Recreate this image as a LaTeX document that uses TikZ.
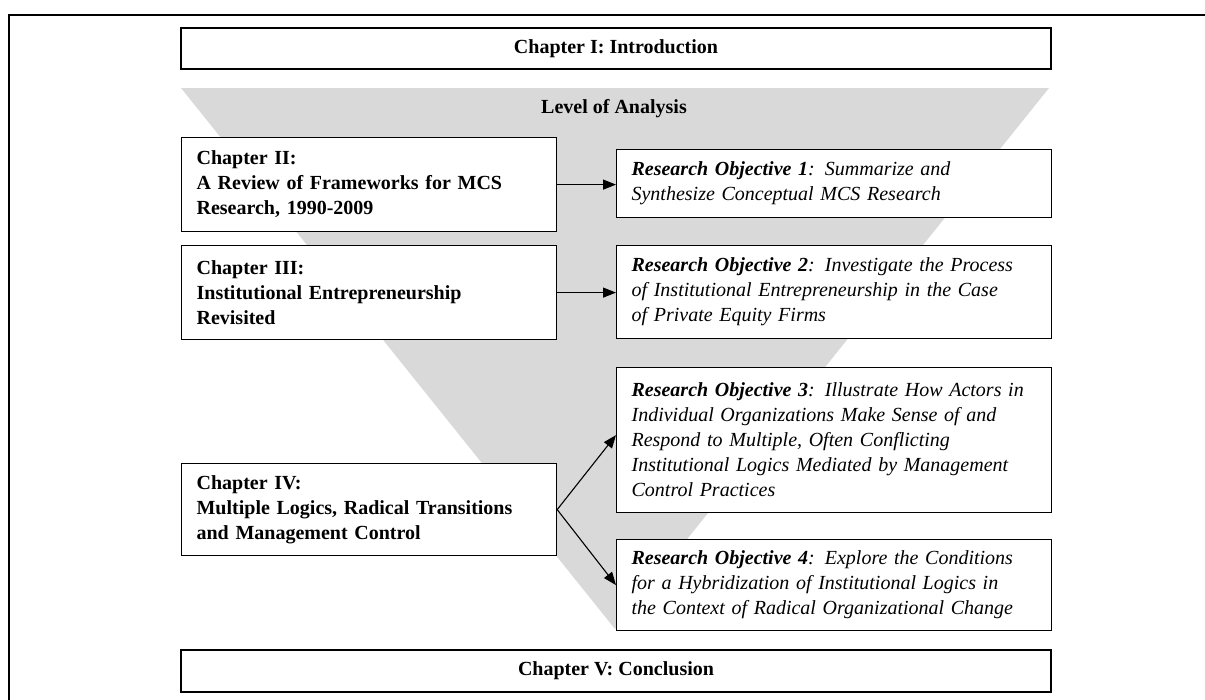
\documentclass[tikz,border=0pt]{standalone}
\usepackage{fontspec}
\setmainfont{Liberation Serif}
\usetikzlibrary{arrows.meta}

\begin{document}
\begin{tikzpicture}
[x=1pt,y=-1pt,
 chapbox/.style={draw,line width=1.2pt,fill=white,anchor=north west,
                 inner xsep=15pt,inner ysep=0pt,align=left,text width=345pt,
                 font=\fontsize{20}{25}\selectfont\bfseries},
 objbox/.style={chapbox,text width=405pt,
                font=\fontsize{20}{25}\selectfont\itshape},
 endbox/.style={draw,line width=1.2pt,fill=white,minimum width=870pt,
                minimum height=41pt,font=\fontsize{20}{25}\selectfont\bfseries},
 link/.style={-{Triangle[length=13pt,width=10pt]},line width=1.1pt}]
\useasboundingbox (0,0) rectangle (1205,699);
\clip (0,0) rectangle (1205,699);
\draw[line width=1.5pt] (9,15) rectangle (1230,730); % frame
% funnel
\fill[black!15] (181,88) -- (1049,88) -- (615,629) -- cycle;

\node[endbox] (ch1) at (616,48.5) {Chapter I: Introduction};
\node[font=\fontsize{20}{25}\selectfont\bfseries] (lvl) at (614,109)
  {Level of Analysis};

\node[chapbox,minimum height=94pt] (ch2) at (181,137)
  {Chapter II:\\ A Review of Frameworks for MCS\\ Research, 1990-2009};
\node[objbox,minimum height=68pt] (ro1) at (616,149)
  {\textbf{Research Objective 1}: Summarize and\\
   Synthesize Conceptual MCS Research};

\node[chapbox,minimum height=94pt] (ch3) at (181,245)
  {Chapter III:\\ Institutional Entrepreneurship\\ Revisited};
\node[objbox,minimum height=93pt] (ro2) at (616,245)
  {\textbf{Research Objective 2}: Investigate the Process\\
   of Institutional Entrepreneurship in the Case\\
   of Private Equity Firms};

\node[objbox,minimum height=145pt] (ro3) at (616,367)
  {\textbf{Research Objective 3}: Illustrate How Actors in\\
   Individual Organizations Make Sense of and\\
   Respond to Multiple, Often Conflicting\\
   Institutional Logics Mediated by Management\\
   Control Practices};
\node[chapbox,minimum height=92pt] (ch4) at (181,463)
  {Chapter IV:\\ Multiple Logics, Radical Transitions\\ and Management Control};
\node[objbox,minimum height=91pt] (ro4) at (616,539)
  {\textbf{Research Objective 4}: Explore the Conditions\\
   for a Hybridization of Institutional Logics in\\
   the Context of Radical Organizational Change};

\node[endbox,minimum height=42pt] (ch5) at (616,671) {Chapter V: Conclusion};

\draw[link] (ch2.east) -- (ch2.east -| ro1.west);
\draw[link] (ch3.east) -- (ch3.east -| ro2.west);
\draw[link] (ch4.east) -- ([yshift=5pt]ro3.west);
\draw[link] (ch4.east) -- (ro4.west);
\end{tikzpicture}
\end{document}
